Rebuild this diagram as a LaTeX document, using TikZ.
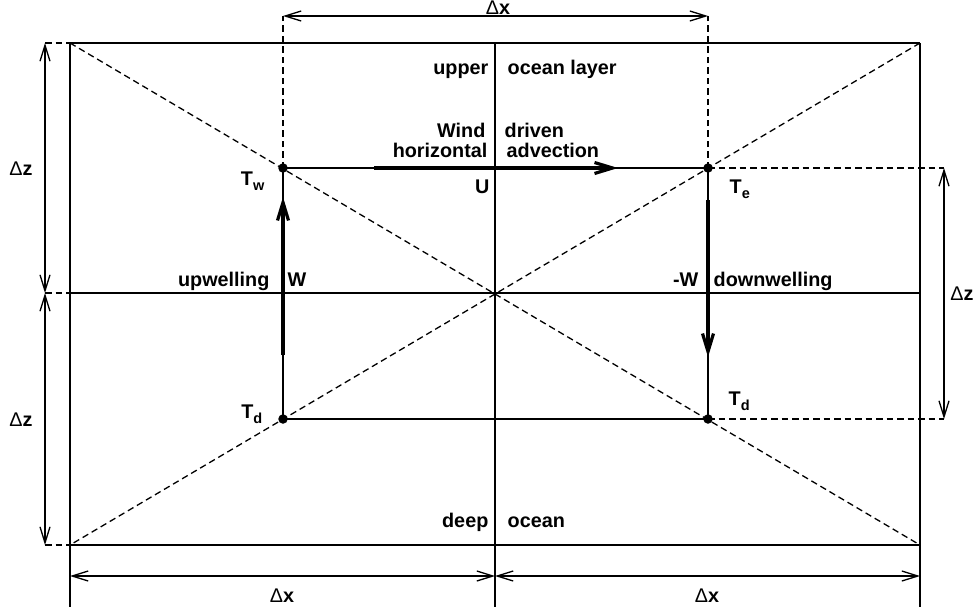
\documentclass[tikz,border=0pt]{standalone}
\usepackage{fontspec}
\setmainfont{Liberation Sans}
\usetikzlibrary{arrows.meta,positioning}
\newcommand\lowidx[1]{\raisebox{-5pt}{\fontsize{14.5}{14.5}\selectfont #1}}
\newcommand\dlt{{\mdseries Δ}}

\begin{document}
\begin{tikzpicture}[x=1pt,y=-1pt,line width=1.3pt,
  every node/.style={font=\fontsize{19.8}{22}\selectfont\bfseries,inner sep=0pt},
  dimarr/.style={{Straight Barb[length=16pt,width=10pt]}-{Straight Barb[length=16pt,width=10pt]}},
  flow/.style={line width=3.2pt,-{Straight Barb[length=18pt,width=11pt]}},
  guide/.style={dash pattern=on 6.5pt off 4pt},
  dot/.style={circle,fill,minimum size=9.5pt}]
\useasboundingbox (0,0) rectangle (973,611);
\coordinate (NW) at (70,43); \coordinate (NE) at (920,43);
\coordinate (W) at (70,293); \coordinate (E) at (920,293);
\coordinate (SW) at (70,545); \coordinate (SE) at (920,545);
\coordinate (C) at (495,293);
% grid of the two layers
\draw (NW) -- (NE); \draw (W) -- (E); \draw (SW) -- (SE);
\foreach \x in {70,495,920} \draw (\x,43) -- (\x,607);
\draw[guide] (NW) -- (SE); \draw[guide] (NE) -- (SW);
% box points
\node[dot] (Tw) at (283,168) {};
\node[dot] (Te) at (708,168) {};
\node[dot] (Tdl) at (283,419) {};
\node[dot] (Tdr) at (708,419) {};
\draw (Tw.center) -- (Te.center) -- (Tdr.center) -- (Tdl.center) -- cycle;
% flows
\coordinate (U0) at (374,168); \coordinate (U1) at (618,168);
\coordinate (W0) at (283,355); \coordinate (W1) at (283,197);
\coordinate (V0) at (708,200); \coordinate (V1) at (708,357);
\draw[flow] (U0) -- (U1);
\draw[flow] (W0) -- (W1);
\draw[flow] (V0) -- (V1);
% dimensions
\foreach \y in {43,293,545} \draw[guide] (45,\y) -- (70,\y);
\draw[dimarr] (45,43) -- (45,293);
\draw[dimarr] (45,293) -- (45,545);
\coordinate (Ter) at (944,168); \coordinate (Tdrr) at (944,419);
\draw[guide] (Te.center) -- (Ter); \draw[guide] (Tdr.center) -- (Tdrr);
\draw[dimarr] (Ter) -- (Tdrr);
\coordinate (Twt) at (283,16); \coordinate (Tet) at (708,16);
\draw[guide] (Tw.center) -- (Twt); \draw[guide] (Te.center) -- (Tet);
\draw[dimarr] (Twt) -- (Tet);
\draw[dimarr] (70,576) -- (495,576);
\draw[dimarr] (495,576) -- (920,576);
% labels
\node[anchor=base] (dz1) at (21,175) {\dlt z};
\node[anchor=base] (dz2) at (21,426) {\dlt z};
\node[anchor=base] (dz3) at (962,300) {\dlt z};
\node[anchor=base] (dx1) at (498,14.5) {\dlt x};
\node[anchor=base] (dx2) at (282,602) {\dlt x};
\node[anchor=base] (dx3) at (707,602) {\dlt x};
\node[anchor=base east] (tw) at (265,185) {T\lowidx{w}};
\node[anchor=base west] (te) at (729,193) {T\lowidx{e}};
\node[anchor=base east] (td1) at (263,418) {T\lowidx{d}};
\node[anchor=base west] (td2) at (728,405) {T\lowidx{d}};
\node[anchor=base east] (upper) at (489,74) {upper};
\node[anchor=base west] (layer) at (507,74) {ocean layer};
\node[anchor=base east] (wind) at (486,137) {Wind};
\node[anchor=base east] (horiz) at (488,157) {horizontal};
\node[anchor=base west] (driven) at (504,137) {driven};
\node[anchor=base west] (advec) at (506,157) {advection};
\node[anchor=base east] (u) at (490,193) {U};
\node[anchor=base east] (upw) at (270,286) {upwelling};
\node[anchor=base west] (w) at (287,286) {W};
\node[anchor=base east] (mw) at (699,286) {-W};
\node[anchor=base west] (dnw) at (713,286) {downwelling};
\node[anchor=base east] (deep) at (489,527) {deep};
\node[anchor=base west] (ocean) at (507,527) {ocean};
\end{tikzpicture}
\end{document}
